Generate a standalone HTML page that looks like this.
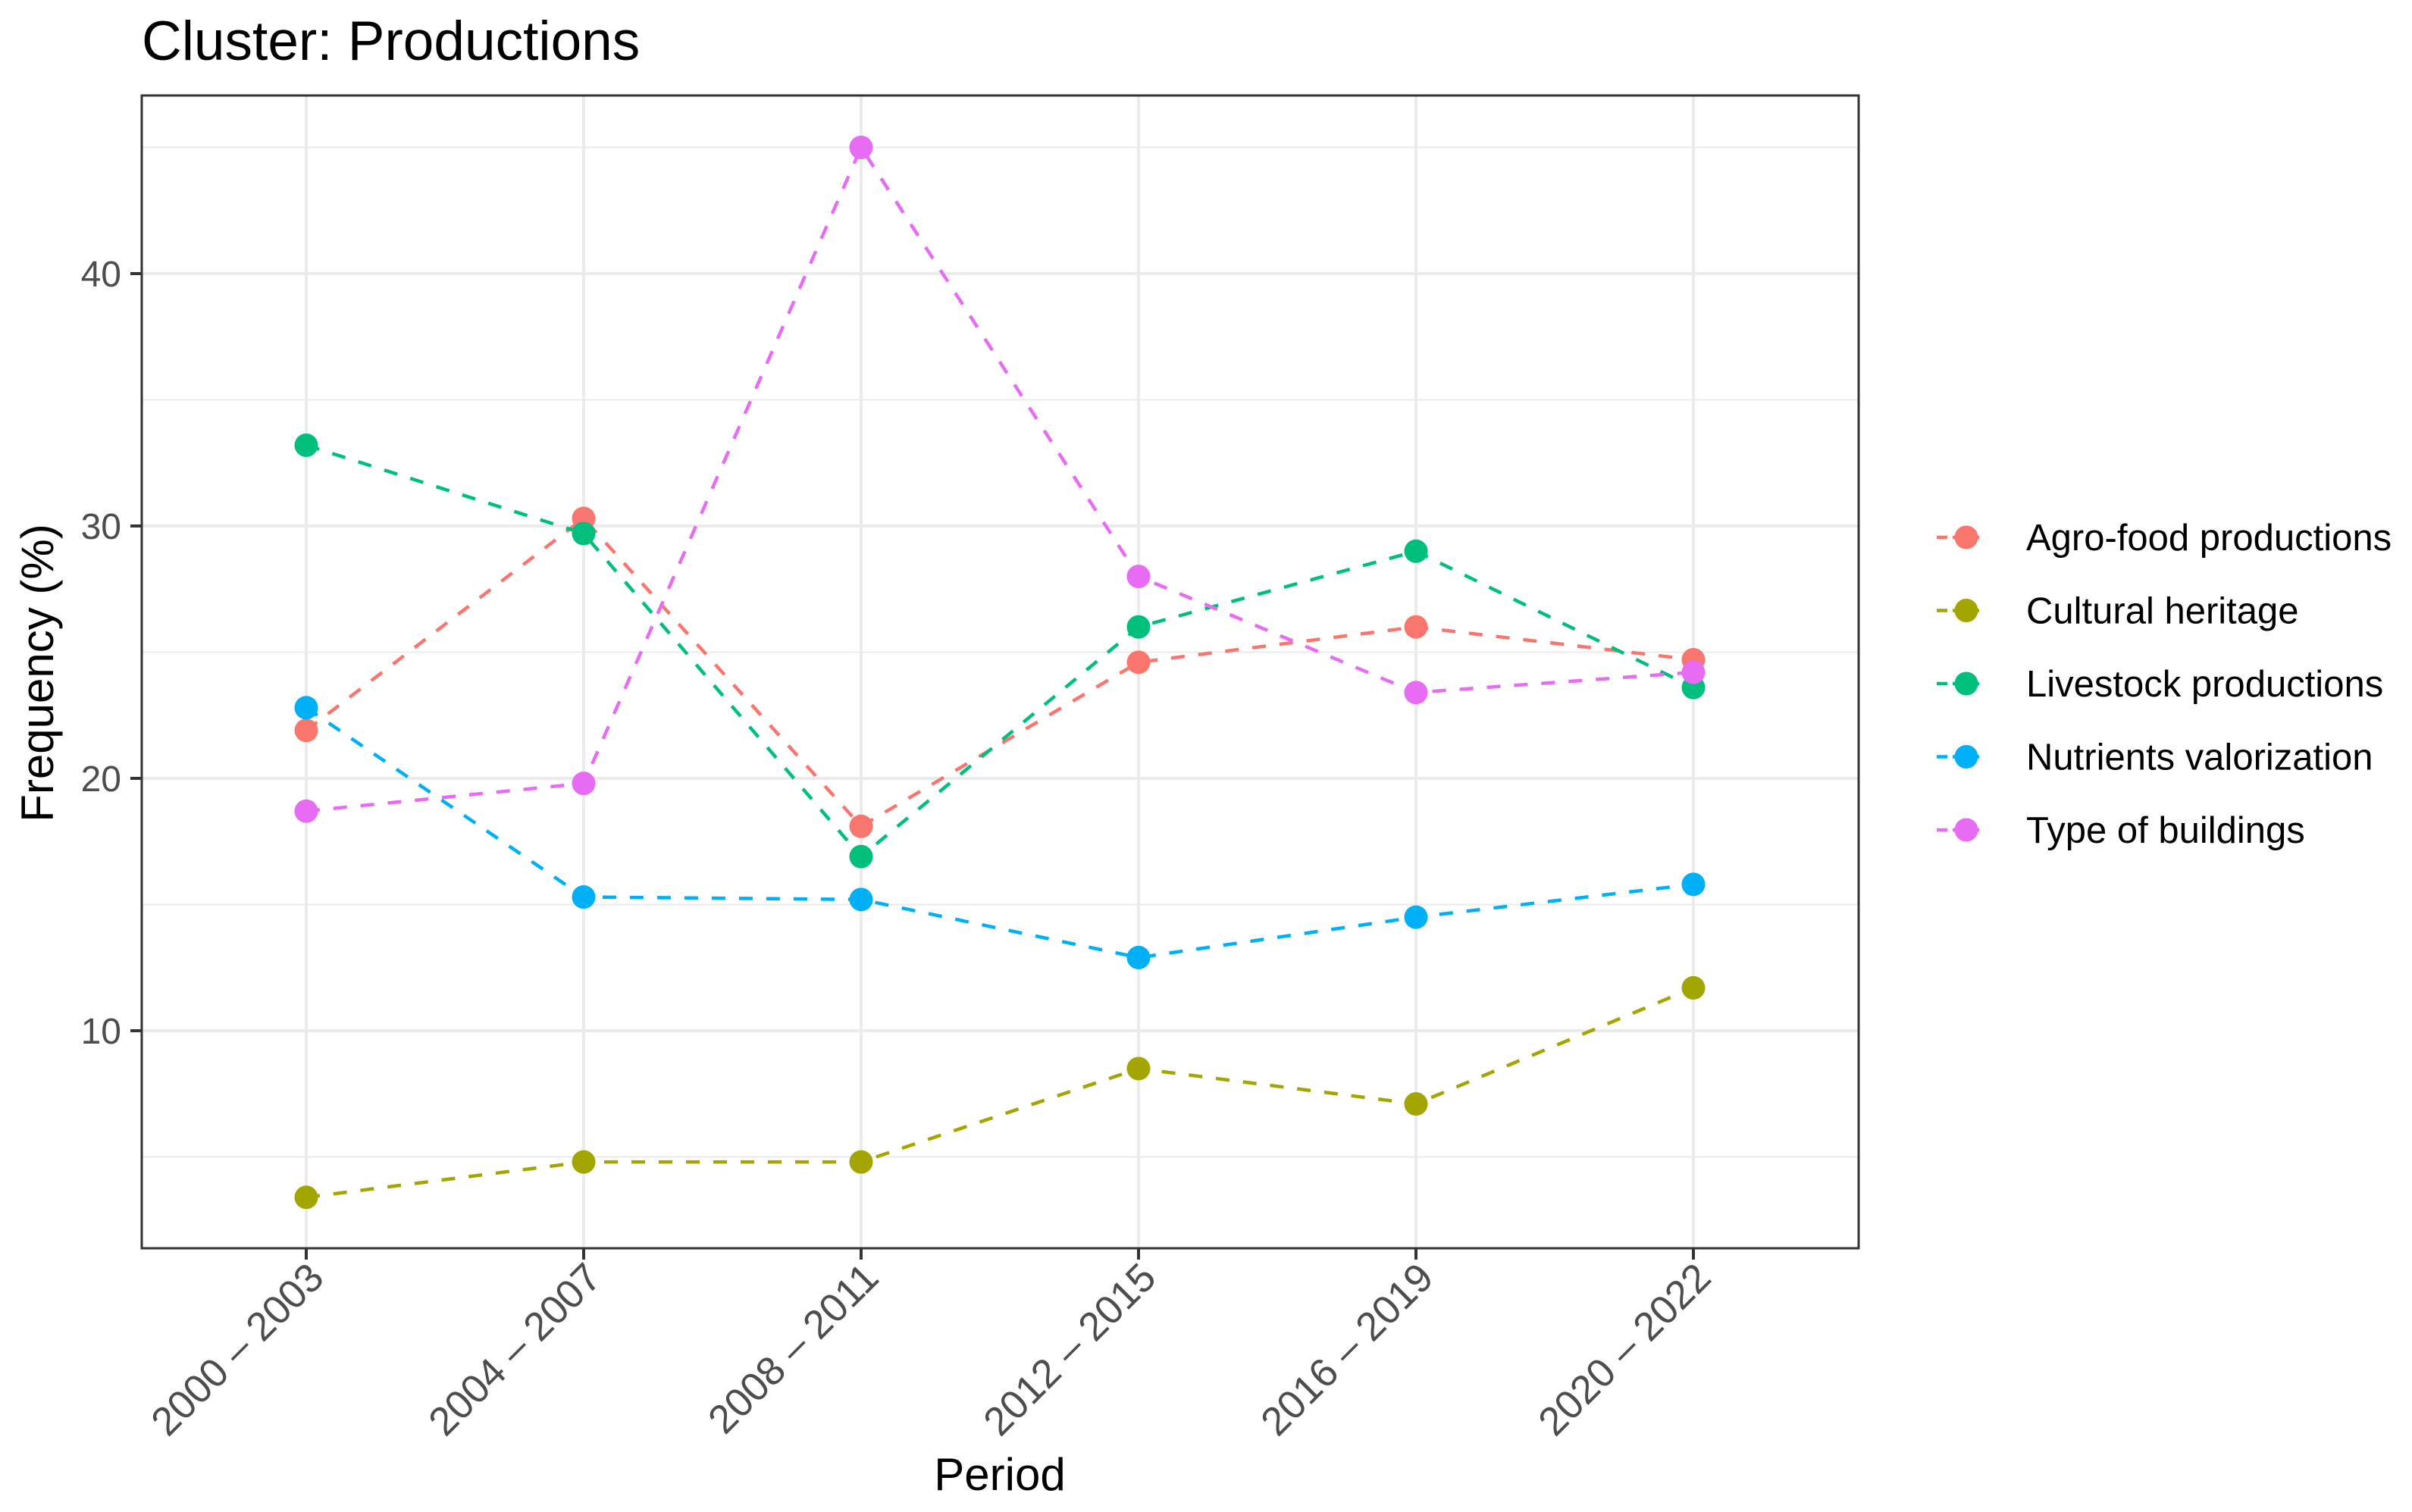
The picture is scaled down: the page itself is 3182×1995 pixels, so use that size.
<!DOCTYPE html>
<html><head><meta charset="utf-8"><style>
html,body{margin:0;padding:0;background:#fff;}
svg{display:block;font-family:"Liberation Sans",Arial,sans-serif;}
</style></head><body>
<svg id="chart" width="3182" height="1995" viewBox="0 0 3182 1995">
<text x="187" y="79" font-size="73" fill="#000">Cluster: Productions</text>
<g id="grid"></g>
<g id="lines"></g>
<g id="points"></g>
<rect x="187" y="126" width="2265" height="1521" fill="none" stroke="#333" stroke-width="3"/>
<g id="axes"></g>
<text x="1319" y="1966" font-size="60" text-anchor="middle" fill="#000">Period</text>
<text transform="translate(70,888) rotate(-90)" font-size="60" text-anchor="middle" fill="#000">Frequency (%)</text>
<g id="legend"></g>
</svg>
<script>
const categories = ["2000 – 2003","2004 – 2007","2008 – 2011","2012 – 2015","2016 – 2019","2020 – 2022"];
const seriesNames = ["Agro-food productions","Cultural heritage","Livestock productions","Nutrients valorization","Type of buildings"];
const agroFood = [21.9, 30.3, 18.1, 24.6, 26.0, 24.7];
const culturalHeritage = [3.4, 4.8, 4.8, 8.5, 7.1, 11.7];
const livestock = [33.2, 29.7, 16.9, 26.0, 29.0, 23.6];
const nutrients = [22.8, 15.3, 15.2, 12.9, 14.5, 15.8];
const buildings = [18.7, 19.8, 45.0, 28.0, 23.4, 24.2];
const yTicks = [10, 20, 30, 40];
const yMinor = [5, 15, 25, 35, 45];

const seriesData = [agroFood, culturalHeritage, livestock, nutrients, buildings];
const colors = ["#F8766D","#A3A500","#00BF7D","#00B0F6","#E76BF3"];
const NS = "http://www.w3.org/2000/svg";
const PL = 187, PR = 2452, PT = 126, PB = 1647;
function xScale(i){ return 404 + i * 366; }
function yScale(v){ return 361 + (40 - v) * 33.3; }
function mk(tag, attrs, parent){ const e = document.createElementNS(NS, tag); for (const k in attrs) e.setAttribute(k, attrs[k]); parent.appendChild(e); return e; }
const grid = document.getElementById('grid');
yMinor.forEach(v => { const y = yScale(v); if (y < PT || y > PB) return;
  const l = mk('line', {x1:PL, x2:PR, y1:y, y2:y, stroke:'#ebebeb', 'stroke-width':2}, grid);
  
   });
yTicks.forEach(v => { const y = yScale(v);
  const l = mk('line', {x1:PL, x2:PR, y1:y, y2:y, stroke:'#ebebeb', 'stroke-width':4}, grid);
  
   });
categories.forEach((c, i) => { const x = xScale(i);
  const l = mk('line', {x1:x, x2:x, y1:PT, y2:PB, stroke:'#ebebeb', 'stroke-width':4}, grid);
  
   });
const axes = document.getElementById('axes');
yTicks.forEach(v => { const y = yScale(v);
  const t = mk('line', {x1:PL-15, x2:PL, y1:y, y2:y, stroke:'#333', 'stroke-width':4}, axes);
  
  
  const tx = mk('text', {x:PL-27, y:y+17, 'font-size':48, 'text-anchor':'end', fill:'#4d4d4d'}, axes);
  tx.textContent = v;
  
   });
categories.forEach((c, i) => { const x = xScale(i);
  const t = mk('line', {x1:x, x2:x, y1:PB, y2:PB+15, stroke:'#333', 'stroke-width':4}, axes);
  
  
  const tx = mk('text', {'font-size':53, 'text-anchor':'end', fill:'#4d4d4d', transform:`translate(${x+26},${PB+42}) rotate(-45)`}, axes);
  tx.textContent = c;
  
   });
const linesG = document.getElementById('lines'), ptsG = document.getElementById('points');
seriesData.forEach((arr, s) => {
  const d = arr.map((v, i) => (i ? 'L' : 'M') + xScale(i) + ' ' + yScale(v)).join(' ');
  const p = mk('path', {d:d, fill:'none', stroke:colors[s], 'stroke-width':4.5, 'stroke-dasharray':'18 18'}, linesG);
  
  
});
seriesData.forEach((arr, s) => {
  arr.forEach((v, i) => {
    const c = mk('circle', {cx:xScale(i), cy:yScale(v), r:15.5, fill:colors[s]}, ptsG);
    
    
  });
});
const leg = document.getElementById('legend');
seriesNames.forEach((n, s) => { const y = 709 + s * 96.5;
  const l = mk('line', {x1:2555, x2:2618, y1:y, y2:y, stroke:colors[s], 'stroke-width':4.5, 'stroke-dasharray':'14 7'}, leg);
  
  
  const c = mk('circle', {cx:2594, cy:y, r:15.5, fill:colors[s]}, leg);
  
  
  const t = mk('text', {x:2673, y:y+17, 'font-size':49, fill:'#000'}, leg);
  t.textContent = n;
  
  
});
</script>
</body></html>
